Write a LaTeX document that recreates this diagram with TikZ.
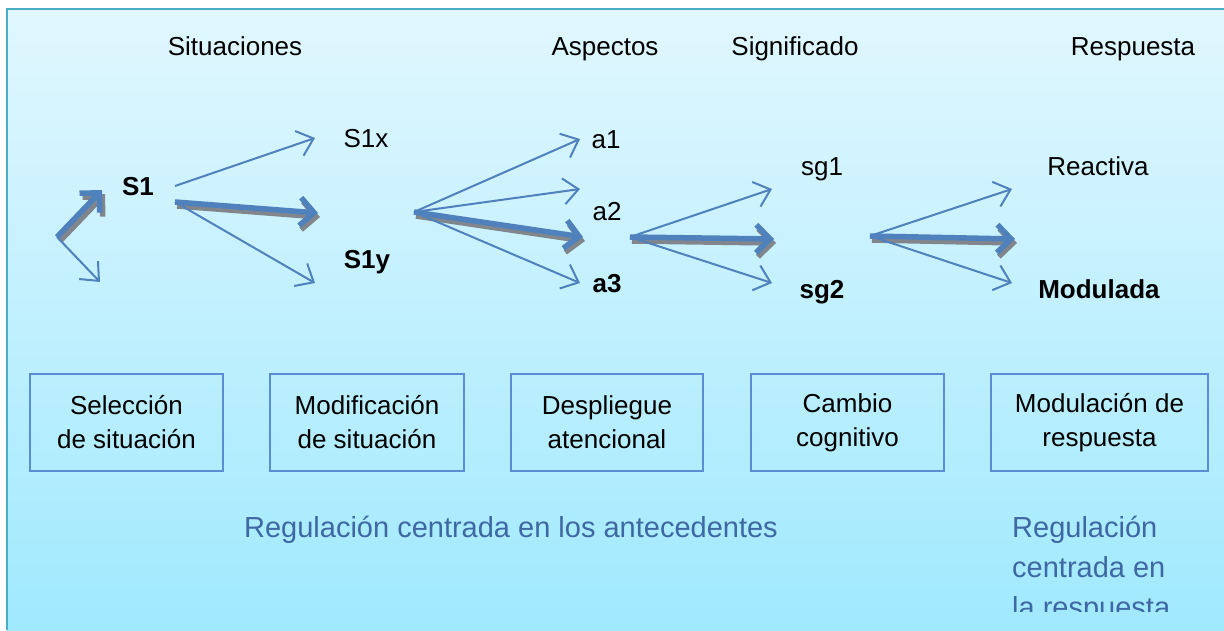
\documentclass[tikz,border=0pt]{standalone}
\usepackage{fontspec}
\setmainfont{Liberation Sans}
\usetikzlibrary{arrows.meta,calc}
\definecolor{arrowblue}{RGB}{79,129,189}
\definecolor{framec}{RGB}{75,172,198}
\definecolor{boxc}{RGB}{91,141,214}
\definecolor{bluetext}{RGB}{62,104,163}
\definecolor{bgtop}{RGB}{225,247,254}
\definecolor{bgbot}{RGB}{160,233,254}
\definecolor{shadowc}{RGB}{128,134,140}
\begin{document}
\begin{tikzpicture}[x=1pt,y=-1pt,
 lbl/.style={font=\fontsize{26}{31}\selectfont, anchor=base, inner sep=0pt},
 stagebox/.style={draw=boxc, line width=1.8pt, align=center, font=\fontsize{26}{34}\selectfont, inner sep=0pt, minimum height=97pt},
 bluelbl/.style={font=\fontsize{29}{40}\selectfont, text=bluetext, inner sep=0pt},
 thinarrow/.style={draw=arrowblue, line width=2pt, -{Straight Barb[length=15pt,width=26pt]}},
 thickarrow/.style={draw=arrowblue, line width=5.5pt, -{Straight Barb[length=14pt,width=28pt]}},
 shadowarrow/.style={draw=shadowc, line width=5.5pt, -{Straight Barb[length=14pt,width=28pt]}},
 ]
\useasboundingbox (0,0) rectangle (1224,630);
\fill[white] (0,0) rectangle (1224,630);
\shade[top color=bgtop, bottom color=bgbot] (7,9) rectangle (1224,630);
\draw[framec, line width=2.5pt] (7,630) -- (7,9) -- (1224,9);

% headers
\node[lbl] (h1) at (235,55) {Situaciones};
\node[lbl] (h2) at (605,55) {Aspectos};
\node[lbl] (h3) at (795,55) {Significado};
\node[lbl] (h4) at (1133,55) {Respuesta};

% labels
\node[lbl] (S1) at (138,195) {\textbf{S1}};
\node[lbl] (S1x) at (366,147) {S1x};
\node[lbl] (S1y) at (367,268) {\textbf{S1y}};
\node[lbl] (a1) at (606,148) {a1};
\node[lbl] (a2) at (607,220) {a2};
\node[lbl] (a3) at (607,292) {\textbf{a3}};
\node[lbl] (sg1) at (822,175) {sg1};
\node[lbl] (sg2) at (822,298) {\textbf{sg2}};
\node[lbl] (re) at (1098,175) {Reactiva};
\node[lbl] (mo) at (1099,298) {\textbf{Modulada}};

% arrow points
\coordinate (g0) at (57,237);
\coordinate (g0a) at (102,190);
\coordinate (g0b) at (100,282);
\coordinate (g1s) at (175,186);
\coordinate (g1o) at (175,202);
\coordinate (g1a) at (315,138);
\coordinate (g1b) at (318,213);
\coordinate (g1c) at (315,283);
\coordinate (g2) at (414,212);
\coordinate (g2a) at (580,139);
\coordinate (g2b) at (580,189);
\coordinate (g2c) at (583,237);
\coordinate (g2d) at (580,283);
\coordinate (g3) at (630,237);
\coordinate (g3a) at (772,189);
\coordinate (g3b) at (774,239);
\coordinate (g3c) at (772,283);
\coordinate (g4) at (870,236);
\coordinate (g4a) at (1012,189);
\coordinate (g4b) at (1015,239);
\coordinate (g4c) at (1012,283);

% shadows of the thick arrows
\draw[shadowarrow] ($(g0)+(3,4)$) -- ($(g0a)+(3,4)$);
\draw[shadowarrow] ($(g1o)+(2,4)$) -- ($(g1b)+(2,4)$);
\draw[shadowarrow] ($(g2)+(2,4)$) -- ($(g2c)+(2,4)$);
\draw[shadowarrow] ($(g3)+(2,4)$) -- ($(g3b)+(2,4)$);
\draw[shadowarrow] ($(g4)+(2,4)$) -- ($(g4b)+(2,4)$);

\draw[thickarrow] (g0) -- (g0a);
\draw[thinarrow] (g0) -- (g0b);
\draw[thinarrow] (g1s) -- (g1a);
\draw[thickarrow] (g1o) -- (g1b);
\draw[thinarrow] (g1o) -- (g1c);
\draw[thinarrow] (g2) -- (g2a);
\draw[thinarrow] (g2) -- (g2b);
\draw[thickarrow] (g2) -- (g2c);
\draw[thinarrow] (g2) -- (g2d);
\draw[thinarrow] (g3) -- (g3a);
\draw[thickarrow] (g3) -- (g3b);
\draw[thinarrow] (g3) -- (g3c);
\draw[thinarrow] (g4) -- (g4a);
\draw[thickarrow] (g4) -- (g4b);
\draw[thinarrow] (g4) -- (g4c);

% boxes
\node[stagebox, minimum width=193pt] (b1) at (126.5,422.5) {Selección\\de situación};
\node[stagebox, minimum width=194pt] (b2) at (367,422.5) {Modificación\\de situación};
\node[stagebox, minimum width=192pt] (b3) at (607,422.5) {Despliegue\\atencional};
\node[stagebox, minimum width=193pt] (b4) at (847.5,422.5) {Cambio\\cognitivo};
\node[stagebox, minimum width=217pt] (b5) at (1099.5,422.5) {Modulación de\\respuesta};

% bottom texts
\node[bluelbl, anchor=base] (rl) at (511,537) {Regulación centrada en los antecedentes};
\begin{scope}
\clip (0,0) rectangle (1224,611);
\node[bluelbl, anchor=base west, align=left] (rr) at (1012,617) {Regulación\\centrada en\\la respuesta};
\end{scope}
\end{tikzpicture}
\end{document}
